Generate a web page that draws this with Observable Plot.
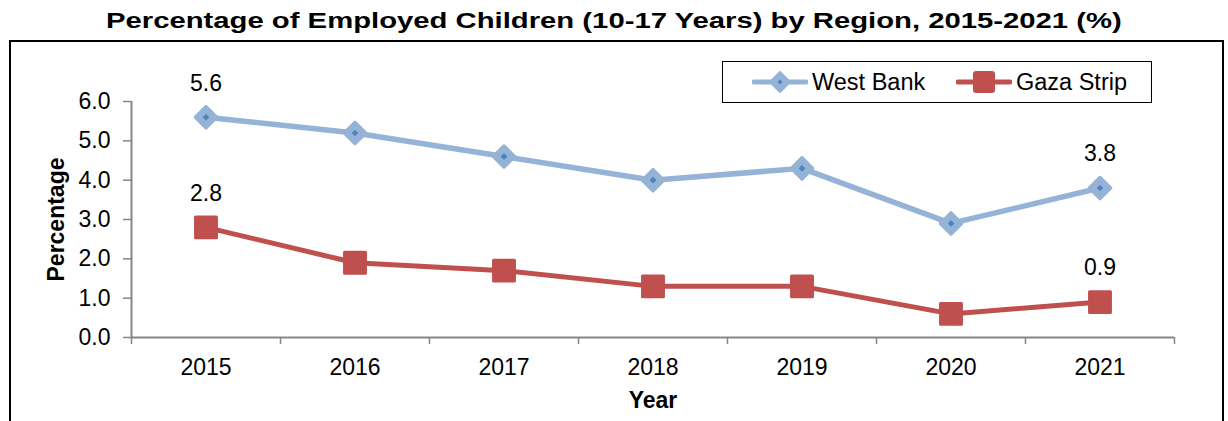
<!DOCTYPE html>
<html>
<head>
<meta charset="utf-8">
<script src="https://cdn.jsdelivr.net/npm/d3@7"></script>
<script src="https://cdn.jsdelivr.net/npm/@observablehq/plot@0.6"></script>
<style>
  html, body { margin: 0; padding: 0; background: #fff; }
  body { font-family: "Liberation Sans", Arial, sans-serif; }
  #wrap { position: relative; width: 1228px; height: 421px; overflow: hidden; }
  #title { position: absolute; left: 0; top: 8px; width: 1228px; text-align: center;
           font-size: 22px; font-weight: bold; color: #000; line-height: 26px; }
  #title span { display: inline-block; transform: scaleX(1.33); transform-origin: center; }
  #frame { position: absolute; left: 9px; top: 40px; width: 1211px; height: 420px;
           border: 2px solid #000; }
  #chart { position: absolute; left: 0; top: 0; }
  #legend { position: absolute; left: 722px; top: 61px; width: 428px; height: 40px;
            border: 1.5px solid #000; background: #fff; font-size: 23.5px; }
  .li { position: absolute; top: 0; height: 40px; display: flex; align-items: center; }
  .li span { margin-left: 4px; }
</style>
</head>
<body>
<div id="wrap">
  <div id="title"><span>Percentage of Employed Children (10-17 Years) by Region, 2015-2021 (%)</span></div>
  <div id="frame"></div>
  <div id="chart"></div>
  <div id="legend"></div>
</div>
<script>
const years = [2015, 2016, 2017, 2018, 2019, 2020, 2021];
const westBank = [5.6, 5.2, 4.6, 4.0, 4.3, 2.9, 3.8];
const gazaStrip = [2.8, 1.9, 1.7, 1.3, 1.3, 0.6, 0.9];
const seriesNames = ["West Bank", "Gaza Strip"];
const yTicks = [0, 1, 2, 3, 4, 5, 6];
const xLabel = "Year";
const yLabel = "Percentage";

const blueLine = "#95B3D7", blueDark = "#4F81BD", red = "#C0504D", axisGray = "#868686";

const wb = years.map((y, i) => ({year: y, value: westBank[i]}));
const gz = years.map((y, i) => ({year: y, value: gazaStrip[i]}));
const bounds = [years[0] - 0.5, ...years.map(y => y + 0.5)];
const ends = arr => [arr[0], arr[arr.length - 1]];

const chart = Plot.plot({
  width: 1228,
  height: 421,
  marginLeft: 131,
  marginRight: 54,
  marginTop: 101,
  marginBottom: 84,
  style: {fontFamily: "'Liberation Sans', Arial, sans-serif", background: "transparent", color: "#000"},
  x: {domain: [bounds[0], bounds[bounds.length - 1]]},
  y: {domain: [0, 6]},
  marks: [
    Plot.axisY({ticks: yTicks, tickFormat: d => d.toFixed(1), tickSize: 8, tickPadding: 13,
                fontSize: 23, stroke: axisGray, strokeWidth: 1.5, fill: "#000", label: null}),
    Plot.axisX({ticks: bounds, tickFormat: () => "", tickSize: 7, stroke: axisGray,
                strokeWidth: 1.5, label: null}),
    Plot.axisX({ticks: years, tickFormat: d => String(d), tickSize: 0, tickPadding: 21,
                fontSize: 23, fill: "#000", label: null}),
    Plot.ruleY([0], {stroke: axisGray, strokeWidth: 2}),
    Plot.ruleX([bounds[0]], {stroke: axisGray, strokeWidth: 2}),
    Plot.line(wb, {x: "year", y: "value", stroke: blueLine, strokeWidth: 5.5}),
    Plot.line(gz, {x: "year", y: "value", stroke: red, strokeWidth: 5}),
    Plot.dot(wb, {x: "year", y: "value", symbol: "diamond2", r: 9.5, fill: blueLine,
                  stroke: blueLine, strokeWidth: 3.5, strokeLinejoin: "round"}),
    Plot.dot(wb, {x: "year", y: "value", symbol: "diamond2", r: 3, fill: blueDark}),
    Plot.dot(gz, {x: "year", y: "value", symbol: "square", r: 11.8, fill: red,
                  stroke: red, strokeWidth: 3, strokeLinejoin: "round"}),
    Plot.text(ends(wb), {x: "year", y: "value", text: d => d.value.toFixed(1), dy: -34,
                         fontSize: 23, fill: "#000"}),
    Plot.text(ends(gz), {x: "year", y: "value", text: d => d.value.toFixed(1), dy: -34,
                         fontSize: 23, fill: "#000"}),
    Plot.text([yLabel], {frameAnchor: "left", textAnchor: "middle", rotate: -90, dx: -75,
                         fontSize: 23, fontWeight: "bold", fill: "#000"}),
    Plot.text([xLabel], {frameAnchor: "bottom", dy: 70, fontSize: 23,
                         fontWeight: "bold", fill: "#000"})
  ]
});
document.getElementById("chart").appendChild(chart);

// Legend
const legend = document.getElementById("legend");
function item(left, name, sym) {
  const d = document.createElement("div");
  d.className = "li";
  d.style.left = left + "px";
  d.innerHTML = `<svg width="56" height="30" viewBox="0 0 56 30">${sym}</svg><span>${name}</span>`;
  legend.appendChild(d);
}
item(29, seriesNames[0],
  `<line x1="2" y1="15" x2="54" y2="15" stroke="${blueLine}" stroke-width="5" stroke-linecap="round"/>
   <path d="M28 5 L38 15 L28 25 L18 15 Z" fill="${blueLine}" stroke="${blueLine}" stroke-width="2" stroke-linejoin="round"/>
   <path d="M28 12.5 L30.5 15 L28 17.5 L25.5 15 Z" fill="${blueDark}"/>`);
item(233, seriesNames[1],
  `<line x1="2" y1="15" x2="54" y2="15" stroke="${red}" stroke-width="5" stroke-linecap="round"/>
   <rect x="17" y="4" width="22" height="22" rx="3" fill="${red}"/>`);
</script>
</body>
</html>
